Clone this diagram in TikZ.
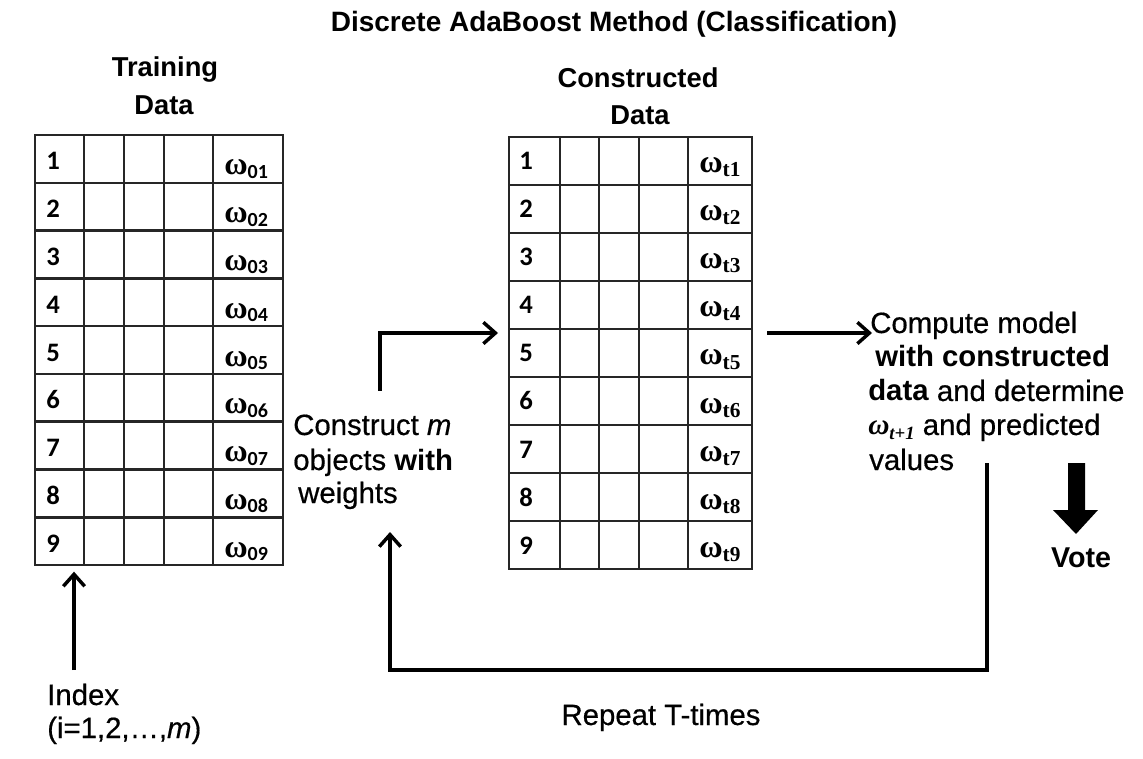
\documentclass[tikz,border=0pt]{standalone}
\usepackage{fontspec}
\setmainfont{Liberation Sans}[UprightFeatures={FakeBold=0.5}, ItalicFeatures={FakeBold=0.5}]
\newfontfamily\numfont{Carlito}
\newfontfamily\greekfont{Liberation Serif}
\usetikzlibrary{arrows.meta}

\tikzset{
  body/.style={inner sep=0pt, anchor=base west, font=\fontsize{22}{26}\selectfont},
  heading/.style={inner sep=0pt, anchor=base, font=\fontsize{20.5}{24}\selectfont\bfseries},
  gridline/.style={line width=1.9pt, draw=black!85},
  tablebox/.style={gridline, draw, inner sep=0pt, outer sep=0pt},
  flow/.style={line width=2.6pt, line join=miter,
    -{Straight Barb[length=9pt,width=16pt]}},
  cellnum/.style={inner sep=0pt, anchor=base west,
    font=\numfont\bfseries\fontsize{20}{20}\selectfont},
  weight/.style={inner sep=0pt, anchor=base west,
    font=\greekfont\bfseries\fontsize{24}{24}\selectfont},
}

\begin{document}
\begin{tikzpicture}[x=0.75pt, y=-0.75pt]
\fill[white] (0,0) rectangle (1143,759);
\useasboundingbox (0,0) rectangle (1143,759);

% title
\node[inner sep=0pt, anchor=base, font=\fontsize{21}{25}\selectfont\bfseries]
  (title) at (614,32) {Discrete AdaBoost Method (Classification)};

% ---- training data table ----
\node[heading] (trainA) at (165,77) {Training};
\node[heading] (trainB) at (164,115) {Data};
\node[tablebox, minimum width=186pt, minimum height=322.5pt] (ltab) at (159,350) {};
\foreach \x in {84,124,164,213}
  \draw[gridline] (\x,135) -- (\x,565);
\foreach \i in {1,...,8}
  \draw[gridline] (35,{135+\i*47.78}) -- (283,{135+\i*47.78});
\foreach \i in {1,...,9} {
  \node[cellnum] (L\i) at (46,{135+(\i-1)*47.78+35}) {\i};
  \node[weight] (LW\i) at (224,{135+(\i-1)*47.78+40})
    {ω\raisebox{-2.5pt}{\numfont\bfseries\fontsize{15}{15}\selectfont 0\i}};
}

% ---- constructed data table ----
\node[heading] (consA) at (638,88) {Constructed};
\node[heading] (consB) at (640,125) {Data};
\node[tablebox, minimum width=182.25pt, minimum height=324pt] (rtab) at (630.5,353) {};
\foreach \x in {560,599,639,688}
  \draw[gridline] (\x,137) -- (\x,569);
\foreach \i in {1,...,8}
  \draw[gridline] (509,{137+\i*48}) -- (752,{137+\i*48});
\foreach \i in {1,...,9} {
  \node[cellnum] (R\i) at (519,{137+(\i-1)*48+33}) {\i};
  \node[weight] (RW\i) at (699,{137+(\i-1)*48+36})
    {ω\raisebox{-3pt}{\fontsize{16}{16}\selectfont t\i}};
}

% ---- text blocks ----
\node[body] (cst1) at (293,435) {Construct \textit{m}};
\node[body] (cst2) at (293,470) {objects \textbf{with}};
\node[body] (cst3) at (298,503) {weights};

\node[body] (cmp1) at (870,333) {Compute model};
\node[body] (cmp2) at (875,367) {\textbf{with constructed}};
\node[body] (cmp3) at (868,401) {\textbf{data} and determine};
\node[body] (cmp4) at (868,435) {{\greekfont\bfseries\itshape ω\raisebox{-3pt}{\fontsize{14}{14}\selectfont t+1}} and predicted};
\node[body] (cmp5) at (869,470) {values};

\node[inner sep=0pt, anchor=base, font=\fontsize{21.5}{25}\selectfont\bfseries] (vote) at (1081,567) {Vote};

\node[body] (idx1) at (47,705) {Index};
\node[body] (idx2) at (47,738) {(i=1,2,\ldots,\textit{m})};

\node[inner sep=0pt, anchor=base, font=\fontsize{22}{26}\selectfont] (repeat) at (661,725) {Repeat T-times};

% ---- connectors ----
\coordinate (idxtail) at (74,670);
\coordinate (cstart) at (380,391);
\coordinate (rin) at (498,333);
\coordinate (rout) at (767,333);
\coordinate (cin) at (872,333);
\coordinate (loopstart) at (987,463);
\coordinate (loopend) at (390,532);

\draw[flow] (idxtail) -- ([yshift=-5pt]idxtail |- ltab.south);
\draw[flow] (cstart) |- (rin);
\draw[flow] (rout) -- (cin);
\draw[flow] (loopstart) -- (987,670) -| (loopend);

% vote block arrow
\fill (1068,463) -- (1085,463) -- (1085,510) -- (1098,510) -- (1076,534)
  -- (1053,510) -- (1068,510) -- cycle;
\end{tikzpicture}
\end{document}
